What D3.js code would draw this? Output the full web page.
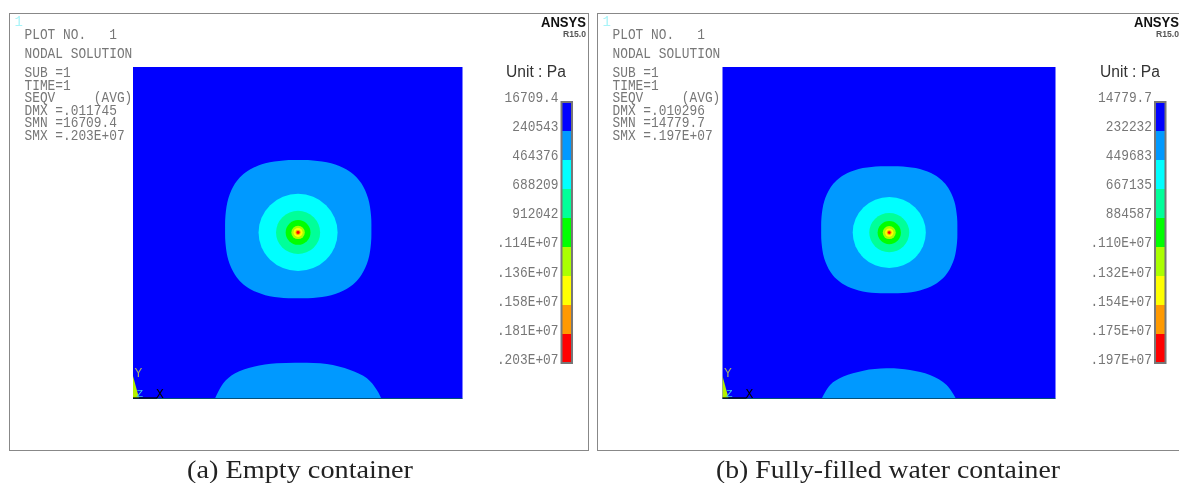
<!DOCTYPE html>
<html lang="en">
<head>
    <meta charset="UTF-8">
    <title>Nodal solution, empty and filled container</title>
    <script src="https://d3js.org/d3.v7.min.js"></script>
    <style>
        html, body { margin: 0; background: #fff; overflow: hidden; }
        svg { display: block; filter: blur(0.35px); }
        .mono { font-family: 'Liberation Mono', monospace; font-size: 14.5px; fill: #777; }
        .caption { font-family: 'Liberation Serif', serif; font-size: 25px; fill: #222; }
    </style>
</head>
<body>
<svg id="chart" width="1179" height="483"></svg>

<script>
    // ANSYS contour band colours, low to high
    const bandColors = ['#0000ff', '#0099ff', '#00ffff', '#00ff99', '#00ff00', '#aaff00', '#ffff00', '#ff9900', '#ff0000'];

    const labelsA = ['16709.4', '240543', '464376', '688209', '912042', '.114E+07', '.136E+07', '.158E+07', '.181E+07', '.203E+07'];
    const labelsB = ['14779.7', '232232', '449683', '667135', '884587', '.110E+07', '.132E+07', '.154E+07', '.175E+07', '.197E+07'];

    const infoA = ['SUB =1', 'TIME=1', 'SEQV     (AVG)', 'DMX =.011745', 'SMN =16709.4', 'SMX =.203E+07'];
    const infoB = ['SUB =1', 'TIME=1', 'SEQV     (AVG)', 'DMX =.010296', 'SMN =14779.7', 'SMX =.197E+07'];

    // contours in percent of the plot square, y measured from the bottom edge
    const outlineA = [[72.35,51.06],[72.24,55.23],[71.35,60.44],[69.35,64.82],[67.35,67.22],[64.8,69.1],[60.14,70.97],[54.59,71.81],[50.15,71.91],
        [45.71,71.81],[40.16,70.97],[35.5,69.1],[32.95,67.22],[30.95,64.82],[28.95,60.44],[28.06,55.23],[27.95,51.06],
        [28.06,46.89],[28.95,41.68],[30.95,37.3],[32.95,34.9],[35.5,33.02],[40.16,31.15],[45.71,30.31],[50.15,30.21],
        [54.59,30.31],[60.14,31.15],[64.8,33.02],[67.35,34.9],[69.35,37.3],[71.35,41.68],[72.24,46.89]];
    const outlineB = [[70.53,50.9],[70.43,54.74],[69.61,59.53],[67.77,63.56],[65.93,65.76],[63.58,67.49],[59.28,69.22],[54.17,69.98],[50.08,70.08],
        [45.99,69.98],[40.88,69.22],[36.58,67.49],[34.23,65.76],[32.39,63.56],[30.55,59.53],[29.73,54.74],[29.63,50.9],
        [29.73,47.06],[30.55,42.27],[32.39,38.24],[34.23,36.04],[36.58,34.31],[40.88,32.58],[45.99,31.82],[50.08,31.72],
        [54.17,31.82],[59.28,32.58],[63.58,34.31],[65.93,36.04],[67.77,38.24],[69.61,42.27],[70.43,47.06]];

    const domeA = [[24.9,0],[27.4,4.6],[31,7.6],[36.6,9.6],[43.6,10.6],[50.7,10.8],[58.8,10.4],[65.9,8.6],[71,6.1],[74,2.6],[75.4,0]];
    const domeB = [[29.8,0],[32.3,4.1],[36.3,6.6],[42.3,8.4],[49.3,9.1],[56.3,8.6],[62.3,7.1],[67.3,4.1],[70.1,0]];

    // rings around the hot spot: x radius, y radius, percent of plot
    const ringsA = [[12.0,11.63],[6.69,6.5],[3.77,3.75],[2.04,2.02],[1.37,1.36],[0.76,0.75],[0.46,0.45]];
    const ringsB = [[10.98,10.7],[6.0,5.9],[3.5,3.5],[1.95,1.95],[1.26,1.26],[0.72,0.72],[0.4,0.4]];
    const centerA = [50.1, 50.1];
    const centerB = [50.08, 50.05];

    const svg = d3.select('#chart');
    const charW = 7.7; // squeezed mono width, the original glyphs are tall and narrow

    function mono(sel, str) {
        return sel.attr('class', 'mono')
            .attr('xml:space', 'preserve')
            .attr('textLength', str.length * charW)
            .attr('lengthAdjust', 'spacingAndGlyphs')
            .text(str);
    }

    function drawPanel(p) {
        const g = svg.append('g');

        // frame, right side may run off the page
        g.append('rect')
            .attr('x', p.frame[0]).attr('y', 13.5)
            .attr('width', p.frame[1] - p.frame[0]).attr('height', 437)
            .attr('fill', 'none').attr('stroke', '#888').attr('stroke-width', 1);

        const x = d3.scaleLinear().domain([0, 100]).range(p.plotX);
        const y = d3.scaleLinear().domain([0, 100]).range([398.5, 67]);

        g.append('rect')
            .attr('x', p.plotX[0]).attr('y', y(100))
            .attr('width', x(100) - x(0)).attr('height', y(0) - y(100))
            .attr('fill', bandColors[0]);

        const closed = d3.line().x(d => x(d[0])).y(d => y(d[1])).curve(d3.curveCatmullRomClosed);
        const open = d3.line().x(d => x(d[0])).y(d => y(d[1])).curve(d3.curveCatmullRom);

        g.append('path').attr('d', closed(p.outline)).attr('fill', bandColors[1]);
        g.append('path').attr('d', open(p.dome) + 'Z').attr('fill', bandColors[1]);

        g.selectAll('ellipse').data(p.rings).join('ellipse')
            .attr('cx', x(p.center[0]))
            .attr('cy', y(p.center[1]))
            .attr('rx', d => x(d[0]) - x(0))
            .attr('ry', d => y(0) - y(d[1]))
            .attr('fill', (d, i) => bandColors[i + 2]);

        // plot bottom edge
        g.append('line')
            .attr('x1', x(0)).attr('x2', x(100)).attr('y1', y(0)).attr('y2', y(0))
            .attr('stroke', '#05507a').attr('stroke-width', 1);

        // triad
        const tx = p.plotX[0];
        g.append('path')
            .attr('d', `M${tx},376L${tx + 6},398L${tx},398Z`)
            .attr('fill', '#b4f000');
        g.append('line')
            .attr('x1', tx).attr('x2', tx + 24).attr('y1', 398).attr('y2', 398)
            .attr('stroke', '#000').attr('stroke-width', 1.2);
        g.append('text').attr('x', tx + 1.5).attr('y', 376.5)
            .attr('font-family', "'Liberation Mono', monospace").attr('font-size', 13)
            .attr('fill', '#a5ad6a').text('Y');
        g.append('text').attr('x', tx + 3.5).attr('y', 397)
            .attr('font-family', "'Liberation Mono', monospace").attr('font-size', 11)
            .attr('fill', '#40c8e0').text('Z');
        g.append('text').attr('x', tx + 23).attr('y', 398)
            .attr('font-family', "'Liberation Mono', monospace").attr('font-size', 13)
            .attr('fill', '#000').text('X');

        // header text
        const tl = p.frame[0] + 15;
        g.append('text').attr('x', p.frame[0] + 5).attr('y', 26)
            .attr('font-family', "'Liberation Mono', monospace").attr('font-size', 14)
            .attr('fill', '#a8f4f8').text('1');
        mono(g.append('text').attr('x', tl).attr('y', 39), 'PLOT NO.   1');
        mono(g.append('text').attr('x', tl).attr('y', 58), 'NODAL SOLUTION');
        p.info.forEach((line, i) => {
            mono(g.append('text').attr('x', tl).attr('y', 77 + i * 12.6), line);
        });

        // logo
        g.append('text').attr('x', p.logoX).attr('y', 27).attr('text-anchor', 'end')
            .attr('font-family', "'Liberation Sans', sans-serif").attr('font-weight', 700)
            .attr('font-size', 15).attr('fill', '#111')
            .attr('textLength', 45).attr('lengthAdjust', 'spacingAndGlyphs').text('ANSYS');
        g.append('text').attr('x', p.logoX).attr('y', 37).attr('text-anchor', 'end')
            .attr('font-family', "'Liberation Sans', sans-serif").attr('font-weight', 700)
            .attr('font-size', 8.7).attr('fill', '#555')
            .attr('textLength', 23).attr('lengthAdjust', 'spacingAndGlyphs').text('R15.0');

        g.append('text').attr('x', p.unitX).attr('y', 76.5)
            .attr('font-family', "'Liberation Sans', sans-serif")
            .attr('font-size', 15.6).attr('fill', '#333').text('Unit : Pa');

        // legend bar
        const band = d3.scaleBand().domain(d3.range(bandColors.length)).range([102, 363]);
        const ly = d3.scaleLinear().domain([0, 9]).range([101.5, 364]);
        g.selectAll('rect.band').data(bandColors).join('rect')
            .attr('class', 'band')
            .attr('x', p.barX).attr('width', 10.5)
            .attr('y', (d, i) => band(i))
            .attr('height', band.bandwidth())
            .attr('fill', d => d);
        g.append('rect')
            .attr('x', p.barX).attr('y', 102).attr('width', 10.5).attr('height', 261)
            .attr('fill', 'none').attr('stroke', '#777').attr('stroke-width', 2);
        p.labels.forEach((lab, i) => {
            mono(g.append('text').attr('x', p.barX - 3).attr('y', ly(i)).attr('text-anchor', 'end'), lab);
        });

        g.append('text').attr('class', 'caption')
            .attr('x', p.captionX[0]).attr('y', 478)
            .attr('textLength', p.captionX[1] - p.captionX[0])
            .attr('lengthAdjust', 'spacingAndGlyphs')
            .text(p.caption);
    }

    drawPanel({
        frame: [9.5, 588.5], plotX: [133, 462.5], outline: outlineA, dome: domeA,
        rings: ringsA, center: centerA, info: infoA, labels: labelsA,
        logoX: 586, unitX: 506, barX: 561.5,
        caption: '(a) Empty container', captionX: [187, 413]
    });
    drawPanel({
        frame: [597.5, 1190], plotX: [722.5, 1055.5], outline: outlineB, dome: domeB,
        rings: ringsB, center: centerB, info: infoB, labels: labelsB,
        logoX: 1179, unitX: 1100, barX: 1155,
        caption: '(b) Fully-filled water container', captionX: [716, 1060]
    });
</script>
</body>
</html>
